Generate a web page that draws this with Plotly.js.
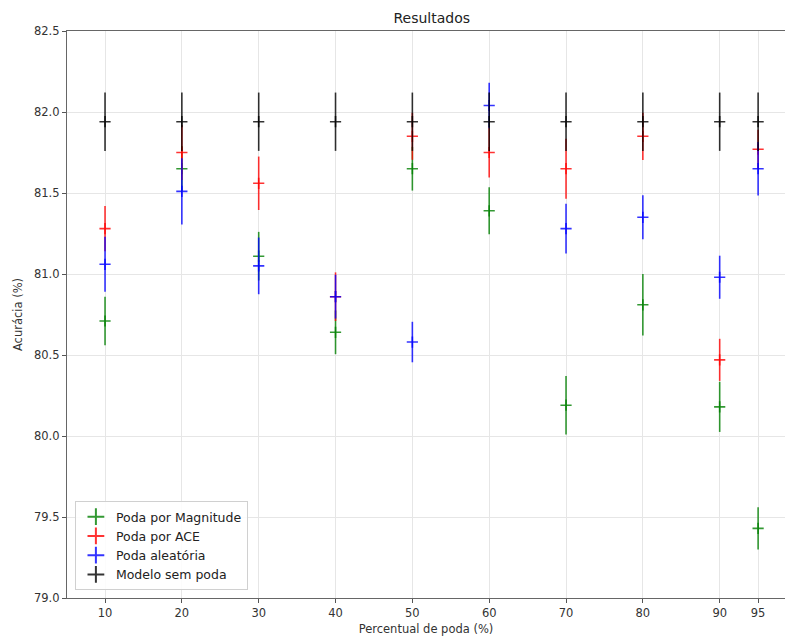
<!DOCTYPE html>
<html>
<head>
<meta charset="utf-8">
<script src="https://cdn.plot.ly/plotly-3.0.1.min.js"></script>
<style>html,body{margin:0;padding:0;background:#fff;}#chart{width:785px;height:639px;}</style>
</head>
<body>
<div id="chart"></div>
<script>
const pruning = [10, 20, 30, 40, 50, 60, 70, 80, 90, 95];
const tickLabels = ["10", "20", "30", "40", "50", "60", "70", "80", "90", "95"];

const magnitudeMean = [80.71, 81.65, 81.11, 80.64, 81.65, 81.39, 80.19, 80.81, 80.18, 79.43];
const magnitudeStd  = [0.15, 0.14, 0.15, 0.135, 0.135, 0.145, 0.18, 0.19, 0.155, 0.13];

const aceMean = [81.28, 81.75, 81.56, 80.86, 81.85, 81.75, 81.65, 81.85, 80.47, 81.77];
const aceStd  = [0.14, 0.17, 0.165, 0.15, 0.145, 0.155, 0.185, 0.146, 0.13, 0.12];

const randomMean = [81.06, 81.51, 81.05, 80.86, 80.58, 82.04, 81.28, 81.35, 80.98, 81.65];
const randomStd  = [0.17, 0.205, 0.175, 0.135, 0.125, 0.14, 0.154, 0.136, 0.133, 0.165];

const baselineMean = [81.94, 81.94, 81.94, 81.94, 81.94, 81.94, 81.94, 81.94, 81.94, 81.94];
const baselineStd  = [0.18, 0.18, 0.18, 0.18, 0.18, 0.18, 0.18, 0.18, 0.18, 0.18];

const seriesNames = ["Poda por Magnitude", "Poda por ACE", "Poda aleatória", "Modelo sem poda"];
const seriesColors = ["rgba(0,128,0,0.8)", "rgba(255,0,0,0.8)", "rgba(0,0,255,0.8)", "rgba(0,0,0,0.8)"];

function makeTrace(name, mean, std, color) {
  return {
    type: "scatter",
    mode: "markers",
    name: name,
    x: pruning,
    y: mean,
    error_y: {type: "data", array: std, visible: true, thickness: 1.6, width: 0, color: color},
    marker: {symbol: "cross-thin", size: 8, color: color, line: {color: color, width: 1.6}},
    hoverinfo: "x+y"
  };
}

const traces = [
  makeTrace(seriesNames[0], magnitudeMean, magnitudeStd, seriesColors[0]),
  makeTrace(seriesNames[1], aceMean, aceStd, seriesColors[1]),
  makeTrace(seriesNames[2], randomMean, randomStd, seriesColors[2]),
  makeTrace(seriesNames[3], baselineMean, baselineStd, seriesColors[3])
];

const layout = {
  width: 785,
  height: 639,
  margin: {l: 67, r: 0, t: 31, b: 41, pad: 0},
  paper_bgcolor: "#fff",
  plot_bgcolor: "#fff",
  font: {family: "DejaVu Sans, sans-serif", size: 11.5, color: "#333"},
  title: {
    text: "Resultados",
    font: {family: "DejaVu Sans, sans-serif", size: 14, color: "#222"},
    xref: "container", x: 0.55, xanchor: "center",
    yref: "container", y: 0.972, yanchor: "middle"
  },
  showlegend: true,
  legend: {
    x: 0.011, y: 0.014, xanchor: "left", yanchor: "bottom",
    xref: "paper", yref: "paper",
    bgcolor: "rgba(255,255,255,0.85)",
    bordercolor: "#d0d0d0", borderwidth: 1,
    font: {family: "DejaVu Sans, sans-serif", size: 12.5, color: "#222"},
    itemsizing: "constant",
    tracegroupgap: 0
  },
  xaxis: {
    range: [5.05, 98.5],
    tickmode: "array",
    tickvals: pruning,
    ticktext: tickLabels,
    ticks: "outside", ticklen: 4, tickwidth: 1, tickcolor: "#555",
    showgrid: true, gridcolor: "#e6e6e6", gridwidth: 1,
    zeroline: false,
    showline: true, linecolor: "#666", linewidth: 1.3, mirror: true,
    tickfont: {size: 11.5, color: "#333"},
    title: {text: "Percentual de poda (%)", font: {size: 11.5, color: "#333"}, standoff: 5}
  },
  yaxis: {
    range: [79.0, 82.5],
    tickmode: "array",
    tickvals: [79.0, 79.5, 80.0, 80.5, 81.0, 81.5, 82.0, 82.5],
    ticktext: ["79.0", "79.5", "80.0", "80.5", "81.0", "81.5", "82.0", "82.5"],
    ticks: "outside", ticklen: 4, tickwidth: 1, tickcolor: "#555",
    showgrid: true, gridcolor: "#e6e6e6", gridwidth: 1,
    zeroline: false,
    showline: true, linecolor: "#666", linewidth: 1.3,
    tickfont: {size: 11.5, color: "#333"},
    title: {text: "Acurácia (%)", font: {size: 11.5, color: "#333"}, standoff: 8}
  }
};

Plotly.newPlot("chart", traces, layout, {displayModeBar: false, responsive: false});
</script>
</body>
</html>
